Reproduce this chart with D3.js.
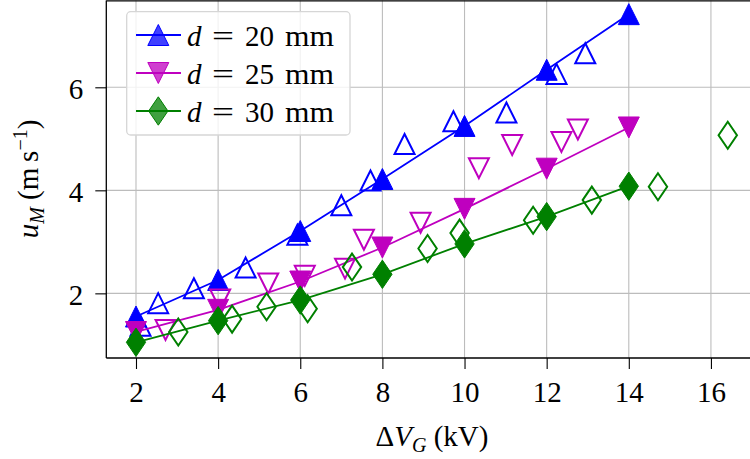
<!DOCTYPE html>
<html><head><meta charset="utf-8">
<script src="https://cdn.jsdelivr.net/npm/d3@7"></script>
<style>body{margin:0;background:#fff}svg{display:block}text{font-family:"Liberation Serif",serif;fill:#000}</style>
</head><body><svg id="c" width="750" height="459"></svg>
<script>
// ---- data ----
const xTicks = [2, 4, 6, 8, 10, 12, 14, 16];
const yTicks = [2, 4, 6];
const fitX = [2, 4, 6, 8, 10, 12, 14];
const d20Fit = [1.55, 2.26, 3.21, 4.22, 5.25, 6.34, 7.42];
const d25Fit = [1.25, 1.68, 2.23, 2.89, 3.64, 4.42, 5.22];
const d30Fit = [1.05, 1.47, 1.87, 2.37, 2.96, 3.49, 4.08];
const d20X = [2.11, 2.54, 3.41, 4.67, 5.93, 7.00, 7.71, 8.54, 9.73, 11.02, 12.24, 12.94];
const d20Y = [1.37, 1.81, 2.10, 2.50, 3.14, 3.71, 4.19, 4.90, 5.34, 5.51, 6.26, 6.66];
const d25X = [2.72, 4.05, 5.22, 6.11, 7.09, 7.55, 8.93, 10.35, 11.16, 12.36, 12.76];
const d25Y = [1.29, 1.88, 2.19, 2.34, 2.48, 3.04, 3.37, 4.43, 4.88, 4.94, 5.18];
const d30X = [3.03, 4.34, 5.18, 6.18, 7.26, 9.10, 9.88, 11.67, 13.10, 14.71, 16.41];
const d30Y = [1.25, 1.50, 1.74, 1.70, 2.51, 2.87, 3.17, 3.42, 3.81, 4.07, 5.07];
const seriesLabels = ["20", "25", "30"];

// ---- layout ----
const L = 106.3, R = 752, T = 0.5, B = 358;
const x = d3.scaleLinear().domain([1.277, 17.0]).range([L, R]);
const y = d3.scaleLinear().domain([0.745, 7.685]).range([B, T]);
const svg = d3.select("#c");

const shapes = {
  up: r => `M0,${-r}L${r},${r}L${-r},${r}Z`,
  down: r => `M0,${r}L${r},${-r}L${-r},${-r}Z`,
  diamond: r => `M0,${-r*1.35}L${r*0.92},0L0,${r*1.35}L${-r*0.92},0Z`
};
const series = [
  {color: "#0000ff", shape: "up", fit: d20Fit, ox: d20X, oy: d20Y, lab: seriesLabels[0]},
  {color: "#bf00bf", shape: "down", fit: d25Fit, ox: d25X, oy: d25Y, lab: seriesLabels[1]},
  {color: "#008000", shape: "diamond", fit: d30Fit, ox: d30X, oy: d30Y, lab: seriesLabels[2]}
];

// clip
svg.append("clipPath").attr("id", "clip").append("rect")
  .attr("x", L).attr("y", T).attr("width", R - L).attr("height", B - T);

// grid
const grid = svg.append("g").attr("stroke", "#bcbcbc").attr("stroke-width", 1.1);
grid.selectAll("line.gx").data(xTicks).join("line")
  .attr("x1", d => x(d)).attr("x2", d => x(d)).attr("y1", T).attr("y2", B);
grid.selectAll("line.gy").data(yTicks).join("line")
  .attr("y1", d => y(d)).attr("y2", d => y(d)).attr("x1", L).attr("x2", R);

// data
const plot = svg.append("g").attr("clip-path", "url(#clip)");
const line = d3.line().x((d, i) => x(fitX[i])).y(d => y(d));
series.forEach(s => {
  const pts = s.ox.map((v, i) => [v, s.oy[i]]);
  plot.append("g").selectAll("path").data(pts).join("path")
    .attr("d", shapes[s.shape](10))
    .attr("transform", d => `translate(${x(d[0])},${y(d[1])})`)
    .attr("fill", "none").attr("stroke", s.color).attr("stroke-width", 2);
  plot.append("path").datum(s.fit).attr("d", line)
    .attr("fill", "none").attr("stroke", s.color).attr("stroke-width", 1.8);
  plot.append("g").selectAll("path").data(s.fit).join("path")
    .attr("d", shapes[s.shape](10.5))
    .attr("transform", (d, i) => `translate(${x(fitX[i])},${y(d)})`)
    .attr("fill", s.color).attr("stroke", s.color).attr("stroke-width", 1);
});

// axes
const xAxis = svg.append("g").attr("transform", `translate(0,${B})`)
  .call(d3.axisBottom(x).tickValues(xTicks).tickSize(11).tickFormat(d3.format("d")));
xAxis.select(".domain").remove();
xAxis.selectAll(".tick line").attr("stroke", "#000").attr("stroke-width", 1.1);
xAxis.selectAll(".tick text").attr("font-size", 29).attr("font-family", "Liberation Serif")
  .attr("y", 43.5).attr("dy", 0);

const yAxis = svg.append("g").attr("transform", `translate(${L},0)`)
  .call(d3.axisLeft(y).tickValues(yTicks).tickSize(11).tickFormat(d3.format("d")));
yAxis.select(".domain").remove();
yAxis.selectAll(".tick line").attr("stroke", "#000").attr("stroke-width", 1.1);
yAxis.selectAll(".tick text").attr("font-size", 29).attr("font-family", "Liberation Serif")
  .attr("x", -23).attr("dy", 11);

// spines
const sp = svg.append("g").attr("stroke", "#000").attr("stroke-width", 1.3).attr("fill", "none");
sp.append("line").attr("x1", L).attr("x2", L).attr("y1", T).attr("y2", B);
sp.append("line").attr("x1", L).attr("x2", R).attr("y1", B).attr("y2", B);
sp.append("line").attr("x1", L).attr("x2", R).attr("y1", T + 0.3).attr("y2", T + 0.3);

// axis labels
const xl = svg.append("text").attr("x", 432).attr("y", 446).attr("text-anchor", "middle").attr("font-size", 29);
xl.append("tspan").text("Δ");
xl.append("tspan").attr("font-style", "italic").text("V");
xl.append("tspan").attr("font-style", "italic").attr("font-size", 20).attr("dy", 6).text("G");
xl.append("tspan").attr("dy", -6).text("\u00a0(kV)");

const yl = svg.append("text").attr("transform", "translate(38,179) rotate(-90)")
  .attr("text-anchor", "middle").attr("font-size", 29);
yl.append("tspan").attr("font-style", "italic").text("u");
yl.append("tspan").attr("font-style", "italic").attr("font-size", 20).attr("dy", 6).text("M");
yl.append("tspan").attr("dy", -6).text("\u00a0(m\u2009s");
yl.append("tspan").attr("font-size", 20).attr("dy", -11).text("−1");
yl.append("tspan").attr("dy", 11).text(")");

// legend
const lg = svg.append("g");
lg.append("rect").attr("x", 126.7).attr("y", 11.7).attr("width", 223.3).attr("height", 123.3)
  .attr("rx", 4).attr("fill", "#fff").attr("fill-opacity", 0.8)
  .attr("stroke", "#d6d6d6").attr("stroke-width", 1.3);
const rowY = [35, 73, 111];
series.forEach((s, i) => {
  const g = lg.append("g");
  g.append("line").attr("x1", 136).attr("x2", 181).attr("y1", rowY[i]).attr("y2", rowY[i])
    .attr("stroke", s.color).attr("stroke-width", 1.8);
  g.append("path").attr("d", shapes[s.shape](10.5))
    .attr("transform", `translate(158.3,${rowY[i]})`)
    .attr("fill", s.color).attr("fill-opacity", 0.75).attr("stroke", s.color).attr("stroke-width", 1);
  const t = g.append("text").attr("y", rowY[i] + 10.5).attr("font-size", 29);
  t.append("tspan").attr("x", 187).attr("font-style", "italic").text("d");
  t.append("tspan").attr("x", 212).attr("textLength", 22).attr("lengthAdjust", "spacingAndGlyphs").text("=");
  t.append("tspan").attr("x", 245).text(s.lab);
  t.append("tspan").attr("x", 285).attr("textLength", 49).attr("lengthAdjust", "spacingAndGlyphs").text("mm");
});
</script></body></html>
